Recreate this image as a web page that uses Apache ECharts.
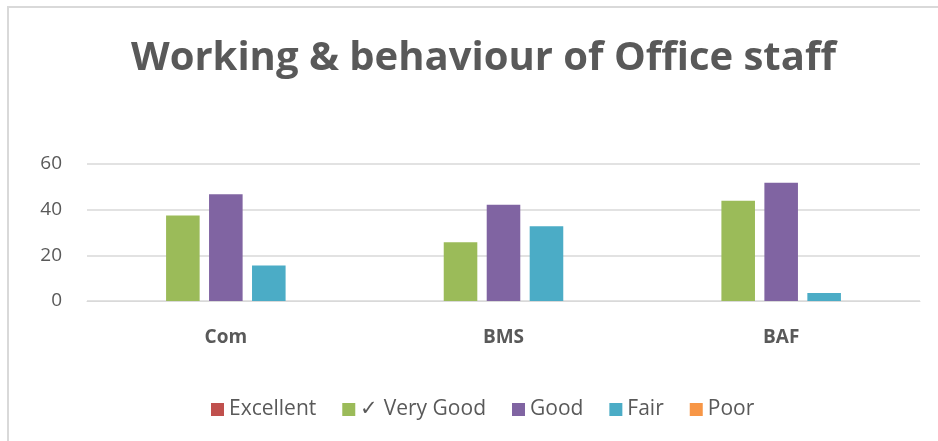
<!DOCTYPE html>
<html>
<head>
    <meta charset="utf-8" />
    <title>Working & behaviour of Office staff</title>
    <script type="text/javascript" src="https://cdn.jsdelivr.net/npm/echarts@6/dist/echarts.min.js"></script>
    <style>
        html, body { margin: 0; padding: 0; background: #fff; }
        #main { width: 938px; height: 441px; }
    </style>
</head>
<body>
<div id="main"></div>
<script type="text/javascript">
    // data
    var categories = ['Com', 'BMS', 'BAF'];
    var seriesNames = ['Excellent', '\u2713 Very Good', 'Good', 'Fair', 'Poor'];
    var excellent = [0, 0, 0];
    var veryGood = [37.4, 25.7, 43.9];
    var good = [46.7, 42.2, 51.8];
    var fair = [15.6, 32.7, 3.5];
    var poor = [0, 0, 0];
    var yTicks = [0, 20, 40, 60];

    var colors = ['#C0504D', '#9BBB59', '#8064A2', '#4BACC6', '#F79646'];
    var values = [excellent, veryGood, good, fair, poor];
    var font = 'Open Sans';

    var myChart = echarts.init(document.getElementById('main'));

    var series = [];
    for (var i = 0; i < seriesNames.length; i++) {
        series.push({
            name: seriesNames[i],
            type: 'bar',
            data: values[i],
            itemStyle: { color: colors[i] },
            barGap: '28%',
            barCategoryGap: '26%',
            animation: false
        });
    }

    var option = {
        animation: false,
        title: {
            text: 'Working & behaviour of Office staff',
            left: 126,
            top: 34,
            textStyle: {
                fontFamily: font,
                fontWeight: 'bold',
                fontSize: 40,
                color: '#595959'
            }
        },
        graphic: [{
            type: 'rect',
            shape: { x: 8, y: 7, width: 1000, height: 1000 },
            style: { fill: 'none', stroke: '#d9d9d9', lineWidth: 2 },
            silent: true
        }],
        legend: {
            data: seriesNames,
            left: 206,
            top: 394,
            icon: 'rect',
            itemWidth: 13,
            itemHeight: 13,
            itemGap: 26,
            textStyle: {
                fontFamily: font,
                fontSize: 21,
                color: '#595959'
            }
        },
        grid: {
            left: 87,
            right: 18,
            top: 164,
            bottom: 140
        },
        xAxis: {
            type: 'category',
            data: categories,
            axisLine: { lineStyle: { color: '#d9d9d9' } },
            axisTick: { show: false },
            axisLabel: {
                margin: 27,
                fontFamily: font,
                fontWeight: 'bold',
                fontSize: 19,
                color: '#595959'
            }
        },
        yAxis: {
            type: 'value',
            min: yTicks[0],
            max: yTicks[yTicks.length - 1],
            interval: 20,
            axisLine: { show: false },
            axisTick: { show: false },
            splitLine: { lineStyle: { color: '#d9d9d9', width: 1.5 } },
            axisLabel: {
                margin: 25,
                fontFamily: font,
                fontSize: 19,
                color: '#595959'
            }
        },
        series: series
    };

    myChart.setOption(option);
</script>
</body>
</html>
